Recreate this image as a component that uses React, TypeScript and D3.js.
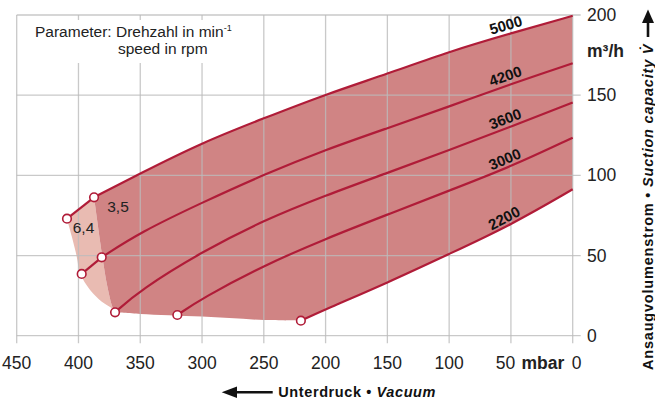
import React from "react";
import * as d3 from "d3";

const W = 655;
const H = 402;

// ---- data (pressure in mbar below atmosphere, flow in m³/h) ----
const speedLabels = ["5000", "4200", "3600", "3000", "2200"];
const pressure5000 = [409.3, 387.4, 350, 300, 250, 200, 150, 100, 50, 0];
const flow5000 = [73, 86.3, 101.2, 120.4, 135.6, 150.5, 163.3, 177.2, 188.6, 199.5];
const pressure4200 = [397.4, 381.2, 350, 300, 250, 200, 150, 100, 50, 0];
const flow4200 = [38.5, 48.9, 64.5, 83, 100.5, 116, 129.4, 142.9, 157, 169.9];
const pressure3600 = [370.4, 350, 300, 250, 200, 150, 100, 50, 0];
const flow3600 = [14.6, 28.5, 52.4, 72, 87.5, 101.5, 115.8, 130.4, 145.4];
const pressure3000 = [320, 300, 250, 200, 150, 100, 50, 0];
const flow3000 = [12.9, 23.3, 43.8, 60.5, 75.5, 90.5, 105.4, 123.5];
const pressure2200 = [220, 200, 150, 100, 50, 0];
const flow2200 = [9.4, 16.5, 33, 51, 69, 91.3];
const startsAt64 = [true, true, false, false, false];

// region boundaries
const darkLeftPressure = [387.4, 380.6, 376.6, 372.6, 370.4];
const darkLeftFlow = [86.3, 48.9, 30.6, 18.1, 14.6];
const bottomPressure = [370.4, 350, 300, 250, 220];
const bottomFlow = [14.6, 13.6, 11.9, 9.8, 9.4];
const lightLeftPressure = [409.3, 405.4, 401.4, 398.7, 390.6, 381.1, 373.1, 370.4];
const lightLeftFlow = [73, 61.8, 49.3, 38.9, 28.5, 21.2, 17.1, 14.6];

const xTicks = [450, 400, 350, 300, 250, 200, 150, 100, 50, 0];
const yTicks = [0, 50, 100, 150, 200];
const labelPressure = 52;

const LINE = "#b01c38";
const DARK = "#d08484";
const LIGHT = "#e9bbb2";
const GRID = "#bcbcbc";
const FONT = "'Liberation Sans', Arial, Helvetica, sans-serif";

export default function App() {
  const x = d3.scaleLinear().domain([450, 0]).range([16.7, 572.7]);
  const y = d3.scaleLinear().domain([0, 200]).range([335.7, 15]);

  const curves = [
    [pressure5000, flow5000],
    [pressure4200, flow4200],
    [pressure3600, flow3600],
    [pressure3000, flow3000],
    [pressure2200, flow2200],
  ];

  const smooth = d3.line<[number, number]>().curve(d3.curveBasis);
  const straight = d3.line<[number, number]>();
  const catmull = d3.line<[number, number]>().curve(d3.curveCatmullRom.alpha(0.5));
  const pts = (ps: number[], qs: number[]) =>
    ps.map((p, i) => [x(p), y(qs[i])] as [number, number]);
  const seg = (ps: number[], qs: number[]) => smooth(pts(ps, qs)) || "";
  const segLine = (ps: number[], qs: number[]) => straight(pts(ps, qs)) || "";
  const segCat = (ps: number[], qs: number[]) => catmull(pts(ps, qs)) || "";
  const join = (...parts: string[]) =>
    parts.map((s, i) => (i === 0 ? s : s.replace(/^M/, "L"))).join("") + "Z";
  const rev = (a: number[]) => a.slice().reverse();

  // main part of each curve (from the 3,5 start point) and 6,4 extension
  const mainCurves = curves.map(([ps, qs], i) =>
    startsAt64[i] ? [ps.slice(1), qs.slice(1)] : [ps, qs]
  );

  const darkPath = join(
    seg(mainCurves[0][0], mainCurves[0][1]),
    seg(rev(pressure2200), rev(flow2200)),
    segCat(rev(bottomPressure), rev(bottomFlow)),
    segCat(rev(darkLeftPressure), rev(darkLeftFlow))
  );
  const lightPath = join(
    segLine(pressure5000.slice(0, 2), flow5000.slice(0, 2)),
    segCat(darkLeftPressure, darkLeftFlow),
    segCat(rev(lightLeftPressure), rev(lightLeftFlow))
  );

  const markers: [number, number][] = [];
  curves.forEach(([ps, qs], i) => {
    markers.push([ps[0], qs[0]]);
    if (startsAt64[i]) markers.push([ps[1], qs[1]]);
  });

  const labels = curves.map(([ps, qs], i) => {
    const f = d3.scaleLinear().domain(ps).range(qs);
    const px = x(labelPressure);
    const py = y(f(labelPressure));
    const dx = x(0) - x(100);
    const dy = y(f(0)) - y(f(100));
    const ang = Math.atan2(dy, dx);
    const off = 9.5;
    const cx = px + Math.sin(ang) * off;
    const cy = py - Math.cos(ang) * off;
    return { text: speedLabels[i], cx, cy, deg: (ang * 180) / Math.PI };
  });

  const x0 = x(450);
  const x1 = x(0);
  const yTop = y(200);
  const yBot = y(0);

  return (
    <svg
      width={W}
      height={H}
      style={{ position: "absolute", left: 0, top: 0, background: "#fff" }}
      fontFamily={FONT}
    >
      {/* fills */}
      <path d={lightPath} fill={LIGHT} />
      <path d={darkPath} fill={DARK} />

      {/* grid */}
      <g stroke={GRID} strokeWidth={1.3} strokeOpacity={0.8}>
        {xTicks.map((t) => (
          <line key={"vx" + t} x1={x(t)} x2={x(t)} y1={yTop} y2={yBot + 7.5} />
        ))}
        {yTicks.map((t) => (
          <line key={"hy" + t} x1={x0} x2={x1 + 8} y1={y(t)} y2={y(t)} />
        ))}
      </g>

      {/* parameter note */}
      <rect x={26} y={20} width={224} height={43} fill="#fff" />
      <text x={35} y={37} fontSize={15.5} fill="#222">
        <tspan>Parameter: Drehzahl in min</tspan>
        <tspan dy={-6} fontSize={9}>-1</tspan>
      </text>
      <text x={118} y={54} fontSize={15.5} fill="#222">
        speed in rpm
      </text>

      {/* curves */}
      {curves.map(([ps, qs], i) =>
        startsAt64[i] ? (
          <path
            key={"e" + i}
            d={segLine(ps.slice(0, 2), qs.slice(0, 2))}
            fill="none"
            stroke={LINE}
            strokeWidth={2.2}
          />
        ) : null
      )}
      {mainCurves.map(([ps, qs], i) => (
        <path
          key={"c" + i}
          d={seg(ps, qs)}
          fill="none"
          stroke={LINE}
          strokeWidth={2.2}
        />
      ))}
      {markers.map(([p, q], i) => (
        <circle
          key={"m" + i}
          cx={x(p)}
          cy={y(q)}
          r={4.3}
          fill="#fff"
          stroke={LINE}
          strokeWidth={1.6}
        />
      ))}

      {/* curve labels */}
      {labels.map((l) => (
        <text
          key={l.text}
          x={l.cx}
          y={l.cy}
          fontSize={15}
          fontWeight="bold"
          fill="#111"
          textAnchor="middle"
          dominantBaseline="central"
          transform={`rotate(${l.deg} ${l.cx} ${l.cy})`}
        >
          {l.text}
        </text>
      ))}

      <text x={118} y={211.5} fontSize={15.5} fill="#222" textAnchor="middle">
        3,5
      </text>
      <text x={83.5} y={233} fontSize={15.5} fill="#222" textAnchor="middle">
        6,4
      </text>

      {/* x tick labels */}
      {xTicks.map((t) => (
        <text
          key={"xl" + t}
          x={x(t) + (t === 50 ? -5.5 : t === 0 ? 4 : 0)}
          y={369}
          fontSize={17.5}
          fill="#222"
          textAnchor="middle"
        >
          {t}
        </text>
      ))}
      <text x={521.5} y={369} fontSize={17.5} fontWeight="bold" fill="#222">
        mbar
      </text>

      {/* y tick labels */}
      {yTicks.map((t) => (
        <text
          key={"yl" + t}
          x={587}
          y={y(t)}
          fontSize={17.5}
          fill="#222"
          dominantBaseline="central"
        >
          {t}
        </text>
      ))}
      <text x={587} y={57} fontSize={17.5} fontWeight="bold" fill="#222">
        m³/h
      </text>

      {/* bottom title */}
      <line x1={234} x2={272.7} y1={392.3} y2={392.3} stroke="#111" strokeWidth={2.6} />
      <path d="M221.7,392.3 L237,386.5 L237,398.1 Z" fill="#111" />
      <text x={278.3} y={397.3} fontSize={14.5} fontWeight="bold" fill="#111" letterSpacing={0.6}>
        <tspan>{"Unterdruck • "}</tspan>
        <tspan fontStyle="italic">Vacuum</tspan>
      </text>

      {/* right title */}
      <text
        transform="translate(652.5,370) rotate(-90)"
        x={0}
        y={0}
        fontSize={14.5}
        fontWeight="bold"
        fill="#111"
        letterSpacing={0.8}
      >
        <tspan>{"Ansaugvolumenstrom • "}</tspan>
        <tspan fontStyle="italic">{"Suction capacity V\u0307"}</tspan>
      </text>
      <line x1={648} x2={648} y1={37} y2={21} stroke="#111" strokeWidth={2.6} />
      <path d="M648,9.5 L642,23 L654,23 Z" fill="#111" />
    </svg>
  );
}
